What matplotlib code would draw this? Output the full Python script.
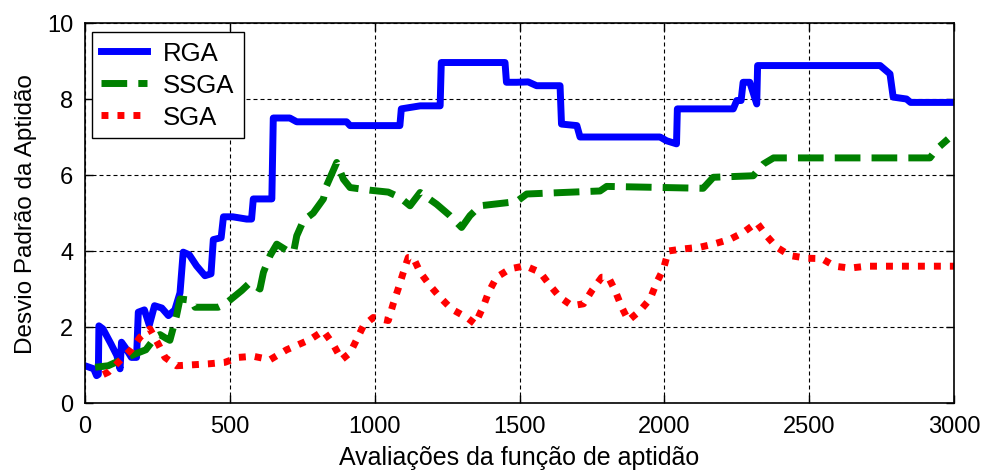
import matplotlib
matplotlib.use("Agg")
import matplotlib.pyplot as plt

# Data (fitness evaluations vs std. deviation).
rga_x = [0, 30, 40, 46, 48, 62, 90, 110, 121, 126, 140, 160, 178, 184, 205, 222,
         240, 265, 288, 310, 328, 339, 360, 385, 414, 435, 443, 470, 478, 510,
         558, 575, 581, 645, 650, 707, 731, 903, 915, 1087, 1092, 1157, 1226,
         1230, 1450, 1455, 1490, 1530, 1559, 1640, 1645, 1698, 1709, 1985, 2008,
         2042, 2045, 2238, 2250, 2265, 2272, 2295, 2319, 2322, 2745, 2779, 2790,
         2836, 2850, 3000]
rga_y = [0.98, 0.90, 0.72, 0.75, 2.03, 1.95, 1.55, 1.25, 0.90, 1.60, 1.45, 1.20,
         1.20, 2.39, 2.45, 2.05, 2.56, 2.50, 2.30, 2.45, 2.90, 3.97, 3.90, 3.61,
         3.35, 3.40, 4.30, 4.35, 4.90, 4.90, 4.84, 4.84, 5.37, 5.37, 7.50, 7.50,
         7.40, 7.40, 7.30, 7.30, 7.74, 7.82, 7.82, 8.96, 8.96, 8.44, 8.44, 8.45,
         8.35, 8.35, 7.34, 7.30, 7.00, 7.00, 6.90, 6.82, 7.74, 7.74, 7.96, 7.96,
         8.44, 8.44, 7.87, 8.88, 8.88, 8.66, 8.05, 8.00, 7.91, 7.91]

ssga_x = [35, 80, 115, 173, 210, 245, 259, 280, 293, 316, 328, 368, 380, 460,
          483, 541, 570, 604, 616, 639, 662, 700, 720, 731, 754, 788, 823, 834,
          869, 892, 915, 984, 1047, 1087, 1122, 1157, 1214, 1260, 1300, 1329,
          1364, 1490, 1525, 1778, 1801, 2134, 2169, 2307, 2342, 2377, 2917, 2940,
          2980]
ssga_y = [0.94, 0.98, 1.10, 1.29, 1.40, 1.75, 1.80, 1.70, 1.65, 2.30, 2.74, 2.70,
          2.52, 2.52, 2.60, 2.96, 3.17, 3.00, 3.44, 3.88, 4.18, 4.00, 3.97, 4.40,
          4.80, 5.00, 5.37, 5.72, 6.33, 5.89, 5.67, 5.60, 5.55, 5.41, 5.19, 5.54,
          5.23, 4.93, 4.62, 4.93, 5.19, 5.30, 5.50, 5.58, 5.70, 5.65, 5.94, 5.98,
          6.29, 6.45, 6.45, 6.68, 6.95]

sga_x = [63, 80, 115, 161, 190, 224, 253, 276, 316, 426, 483, 529, 581, 639, 696,
         777, 823, 857, 886, 915, 938, 961, 995, 1047, 1064, 1081, 1099, 1116,
         1133, 1157, 1191, 1226, 1266, 1318, 1347, 1376, 1393, 1421, 1467, 1519,
         1571, 1606, 1640, 1681, 1721, 1750, 1784, 1807, 1830, 1853, 1876, 1916,
         1951, 1974, 1997, 2014, 2060, 2123, 2169, 2227, 2273, 2319, 2353, 2388,
         2434, 2491, 2543, 2589, 2640, 2698, 3000]
sga_y = [0.75, 0.81, 1.07, 1.42, 1.73, 1.95, 1.55, 1.20, 0.98, 1.03, 1.07, 1.20,
         1.23, 1.14, 1.40, 1.67, 1.90, 1.54, 1.14, 1.32, 1.67, 2.03, 2.25, 2.17,
         2.61, 3.00, 3.44, 3.83, 3.83, 3.44, 3.09, 2.78, 2.47, 2.25, 2.08, 2.56,
         2.91, 3.31, 3.53, 3.61, 3.44, 3.09, 2.78, 2.56, 2.61, 2.96, 3.31, 3.31,
         2.96, 2.52, 2.17, 2.43, 2.74, 3.18, 3.53, 4.00, 4.05, 4.10, 4.18, 4.31,
         4.49, 4.75, 4.40, 4.10, 3.88, 3.81, 3.80, 3.60, 3.55, 3.60, 3.60]

x_ticks = [0, 500, 1000, 1500, 2000, 2500, 3000]
y_ticks = [0, 2, 4, 6, 8, 10]

plt.rcParams["font.family"] = ["Liberation Sans", "DejaVu Sans"]

fig = plt.figure(figsize=(9.84, 4.77), dpi=100)
ax = fig.add_axes([85 / 984, 73 / 477, 869 / 984, 380 / 477])

ax.plot(rga_x, rga_y, color=(0, 0, 1), lw=5, ls="-", label="RGA")
ax.plot(ssga_x, ssga_y, color=(0, 0.5, 0), lw=5, ls=(0, (3.7, 1.6)), label="SSGA")
ax.plot(sga_x, sga_y, color=(1, 0, 0), lw=5, ls=(0, (1, 1.3)), label="SGA")

ax.set_xlim(0, 3000)
ax.set_ylim(0, 10)
ax.set_xticks(x_ticks)
ax.set_yticks(y_ticks)

ax.grid(True, color="black", lw=0.8, ls=(0, (3.6, 2.7)))
ax.set_axisbelow(True)
for s in ax.spines.values():
    s.set_linewidth(1.2)
    s.set_color("black")
ax.tick_params(direction="in", top=True, right=True, length=6, width=1,
               labelsize=17, colors="black")
ax.tick_params(axis="x", pad=8.5)
ax.tick_params(axis="y", pad=8.5)

ax.set_xlabel("Avaliações da função de aptidão", fontsize=18, labelpad=6)
ax.set_ylabel("Desvio Padrão da Aptidão", fontsize=17.5, labelpad=7)

leg = ax.legend(loc="upper left", bbox_to_anchor=(7 / 869, 1 - 9 / 380),
                borderaxespad=0, fontsize=18.5, handlelength=1.8,
                handletextpad=0.62, labelspacing=0.32, borderpad=0.35,
                fancybox=False, framealpha=1, edgecolor="black")
leg.get_frame().set_linewidth(1.0)

fig.savefig("out.png", dpi=100)
